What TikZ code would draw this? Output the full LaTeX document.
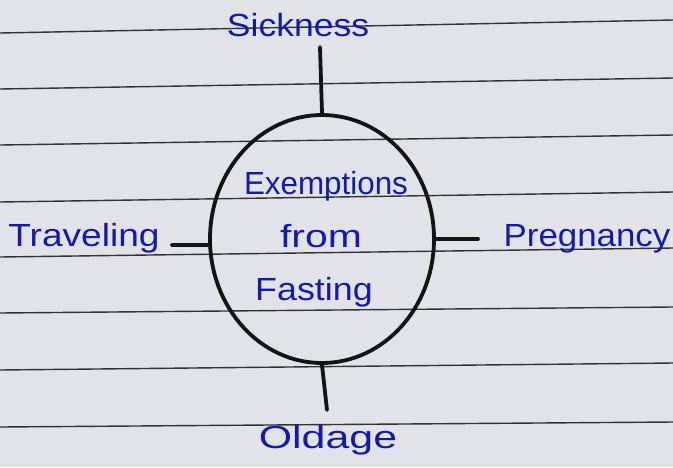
\documentclass[tikz,border=0pt]{standalone}
\usepackage{fontspec}
\setmainfont{Liberation Sans}
\usetikzlibrary{shapes.geometric}
\begin{document}
\begin{tikzpicture}[x=1pt,y=-1pt,
  paper/.style={line width=1.4pt,draw=black!80},
  ink/.style={line width=3.8pt,draw=black!92,line cap=round},
  hand/.style={text=inkblue,font=\fontsize{32}{34}\selectfont,inner sep=0pt},
]
\definecolor{paperbg}{RGB}{226,227,232}
\definecolor{inkblue}{RGB}{20,28,165}
\fill[paperbg] (0,0) rectangle (673,467);
\useasboundingbox (0,0) rectangle (673,467);
% ruled lines
\draw[paper] (0,33) -- (673,20);
\draw[paper] (0,89) -- (673,78);
\draw[paper] (0,145) -- (673,135);
\draw[paper] (0,202) -- (673,192);
\draw[paper] (0,257) -- (673,248);
\draw[paper] (0,313) -- (673,307);
\draw[paper] (0,370) -- (673,363);
\draw[paper] (0,427) -- (673,422);
% circle
\node[ink,ellipse,minimum width=224pt,minimum height=248pt,inner sep=0pt,draw] (c) at (322,239) {};
% labels
\node[hand] (sick) at (298,25) {\scalebox{1.11}[1]{Sickness}};
\node[hand] (trav) at (84,238) {\scalebox{1.16}[1]{Traveling}};
\node[hand] (preg) at (587,239) {\scalebox{1.09}[1]{Pregnancy}};
\node[hand] (old) at (328,440) {\scalebox{1.34}[1]{Oldage}};
\node[hand] (ex) at (326,186) {\scalebox{0.98}[1]{Exemptions}};
\node[hand] (fr) at (321,236) {\scalebox{1.28}[1]{from}};
\node[hand] (fa) at (314,292) {\scalebox{1.12}[1]{Fasting}};
% connectors
\coordinate (t1) at (320,47);
\coordinate (b1) at (327,410);
\coordinate (l1) at (172,245);
\coordinate (r1) at (478,239);
\draw[ink] (t1) -- (c.north);
\draw[ink] (c.south) -- (b1);
\draw[ink] (l1) -- (l1 -| c.west);
\draw[ink] (c.east) -- (r1);
\end{tikzpicture}
\end{document}
